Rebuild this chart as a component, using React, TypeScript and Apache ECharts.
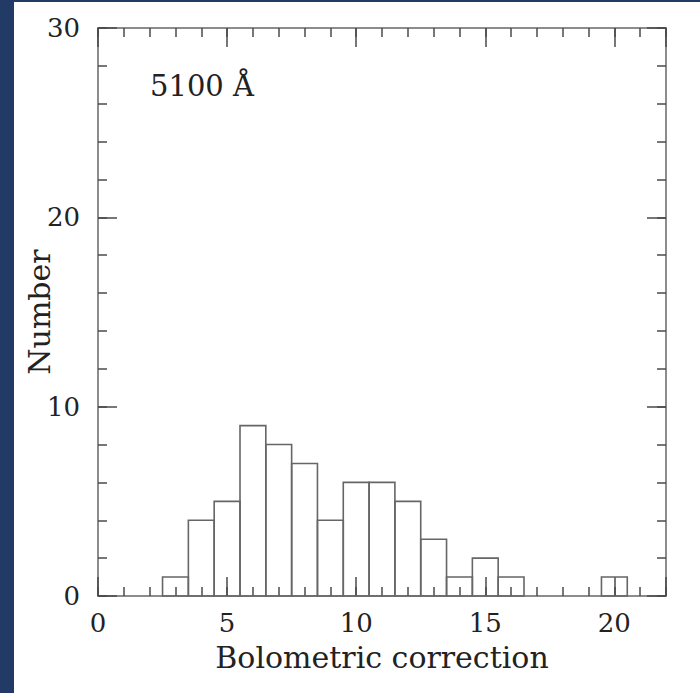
import React, { useEffect, useRef } from "react";
import * as echarts from "echarts";

const binCenters = [3, 4, 5, 6, 7, 8, 9, 10, 11, 12, 13, 14, 15, 16, 20];
const counts = [1, 4, 5, 9, 8, 7, 4, 6, 6, 5, 3, 1, 2, 1, 1];
const xTitle = "Bolometric correction";
const yTitle = "Number";
const panelLabel = "5100 Å";

const FONT = "DejaVu Serif";
const AXIS_COLOR = "#8c8c8c";
const TICK_COLOR = "#4a4a4a";
const TEXT_COLOR = "#222";

function makeX(pos: "bottom" | "top", interval: number, len: number, labels: boolean, line: boolean) {
  return {
    type: "value",
    position: pos,
    min: 0,
    max: 22,
    interval,
    axisLine: { show: line, onZero: false, lineStyle: { color: AXIS_COLOR, width: 2 } },
    axisTick: { show: true, inside: true, length: len, lineStyle: { color: TICK_COLOR, width: 1.5 } },
    axisLabel: {
      show: labels,
      margin: 14,
      fontFamily: FONT,
      fontSize: 26,
      color: TEXT_COLOR,
      formatter: (v: number) => (v % 5 === 0 ? String(v) : ""),
    },
    splitLine: { show: false },
    name: labels && pos === "bottom" ? xTitle : "",
    nameLocation: "middle",
    nameGap: 46,
    nameMoveOverlap: false,
    nameTextStyle: { fontFamily: FONT, fontSize: 30, color: TEXT_COLOR },
  };
}

function makeY(pos: "left" | "right", interval: number, len: number, labels: boolean, line: boolean) {
  return {
    type: "value",
    position: pos,
    min: 0,
    max: 30,
    interval,
    axisLine: { show: line, onZero: false, lineStyle: { color: AXIS_COLOR, width: 2 } },
    axisTick: { show: true, inside: true, length: len, lineStyle: { color: TICK_COLOR, width: 1.5 } },
    axisLabel: {
      show: labels,
      margin: 18,
      fontFamily: FONT,
      fontSize: 26,
      color: TEXT_COLOR,
    },
    splitLine: { show: false },
    name: labels && pos === "left" ? yTitle : "",
    nameLocation: "middle",
    nameGap: 44,
    nameMoveOverlap: false,
    nameTextStyle: { fontFamily: FONT, fontSize: 30, color: TEXT_COLOR },
  };
}

export default function App() {
  const ref = useRef<HTMLDivElement>(null);
  useEffect(() => {
    if (!ref.current) return;
    const chart = echarts.init(ref.current, null, { renderer: "svg" });
    const data = binCenters.map((c, i) => [c, counts[i]]);
    chart.setOption({
      animation: false,
      backgroundColor: "#ffffff",
      grid: { left: 84, top: 26, right: 34, bottom: 97, containLabel: false, outerBoundsMode: "none" },
      xAxis: [
        makeX("bottom", 1, 9, false, true),
        makeX("bottom", 5, 19, true, false),
        makeX("top", 1, 9, false, true),
        makeX("top", 5, 19, false, false),
      ],
      yAxis: [
        makeY("left", 2, 9, false, true),
        makeY("left", 10, 19, true, false),
        makeY("right", 2, 9, false, true),
        makeY("right", 10, 19, false, false),
      ],
      graphic: [
        {
          type: "text",
          left: 136,
          top: 69,
          style: {
            text: panelLabel,
            font: `29px "${FONT}"`,
            fill: TEXT_COLOR,
          },
        },
      ],
      series: [
        {
          type: "custom",
          xAxisIndex: 0,
          yAxisIndex: 0,
          data,
          renderItem: (params: any, api: any) => {
            const x = api.value(0);
            const y = api.value(1);
            const p1 = api.coord([x - 0.5, y]);
            const p2 = api.coord([x + 0.5, 0]);
            return {
              type: "rect",
              shape: { x: p1[0], y: p1[1], width: p2[0] - p1[0], height: p2[1] - p1[1] },
              style: { fill: "none", stroke: "#666", lineWidth: 1.6 },
            };
          },
        },
      ],
    });
    return () => chart.dispose();
  }, []);
  return (
    <div style={{ position: "absolute", left: 0, top: 0, width: 700, height: 693, background: "#213b66" }}>
      <div ref={ref} style={{ position: "absolute", left: 14, top: 2, width: 686, height: 691 }} />
    </div>
  );
}
